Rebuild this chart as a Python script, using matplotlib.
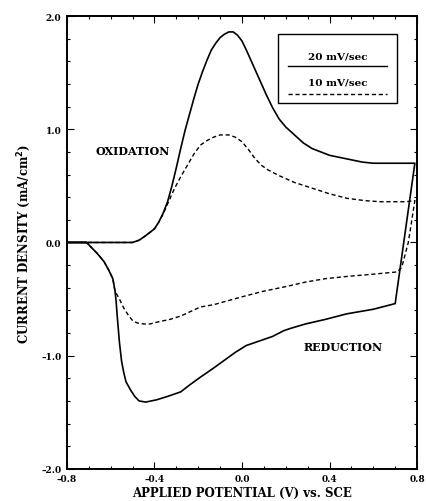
import numpy as np
import matplotlib
matplotlib.use('Agg')
import matplotlib.pyplot as plt
from matplotlib.ticker import MultipleLocator, FuncFormatter
from matplotlib.patches import Rectangle

# ── Data ───────────────────────────────────────────────────────────────────
# 20 mV/sec, anodic (forward) sweep
v20_fwd = [-0.80, -0.60, -0.50, -0.47, -0.44, -0.42, -0.40, -0.38, -0.36, -0.34,
           -0.32, -0.30, -0.28, -0.26, -0.24, -0.22, -0.20, -0.18, -0.16, -0.14,
           -0.12, -0.10, -0.08, -0.06, -0.04, -0.02, 0.00, 0.02, 0.05, 0.08,
           0.11, 0.14, 0.17, 0.20, 0.24, 0.28, 0.32, 0.36, 0.40, 0.45,
           0.50, 0.55, 0.60, 0.79]
i20_fwd = [0.0, 0.0, 0.0, 0.02, 0.06, 0.09, 0.12, 0.18, 0.26, 0.36,
           0.50, 0.66, 0.83, 0.99, 1.13, 1.27, 1.40, 1.51, 1.61, 1.70,
           1.76, 1.81, 1.84, 1.86, 1.86, 1.83, 1.78, 1.70, 1.57, 1.44,
           1.31, 1.19, 1.09, 1.02, 0.95, 0.88, 0.83, 0.80, 0.77, 0.75,
           0.73, 0.71, 0.70, 0.70]

# 20 mV/sec, cathodic (reverse) sweep
v20_rev = [0.79, 0.70, 0.60, 0.48, 0.38, 0.29, 0.22, 0.19, 0.14, 0.08,
           0.02, -0.03, -0.08, -0.13, -0.19, -0.24, -0.28, -0.34, -0.39, -0.44,
           -0.47, -0.49, -0.51, -0.53, -0.54, -0.55, -0.56, -0.57, -0.575, -0.58,
           -0.59, -0.61, -0.63, -0.66, -0.69, -0.71, -0.80]
i20_rev = [0.70, -0.54, -0.59, -0.63, -0.68, -0.72, -0.76, -0.78, -0.83, -0.87,
           -0.91, -0.97, -1.04, -1.11, -1.19, -1.26, -1.32, -1.36, -1.39, -1.41,
           -1.40, -1.36, -1.30, -1.23, -1.15, -1.05, -0.88, -0.65, -0.52, -0.43,
           -0.32, -0.24, -0.17, -0.10, -0.04, 0.0, 0.0]

# 10 mV/sec, anodic sweep
v10_fwd = [-0.80, -0.60, -0.50, -0.47, -0.44, -0.42, -0.40, -0.38, -0.36, -0.34,
           -0.31, -0.28, -0.25, -0.22, -0.19, -0.16, -0.13, -0.10, -0.06, -0.03,
           0.00, 0.03, 0.06, 0.09, 0.12, 0.17, 0.24, 0.32, 0.40, 0.48,
           0.56, 0.63, 0.70, 0.75, 0.79]
i10_fwd = [0.0, 0.0, 0.0, 0.02, 0.06, 0.09, 0.12, 0.18, 0.25, 0.34,
           0.47, 0.58, 0.68, 0.78, 0.86, 0.90, 0.93, 0.95, 0.95, 0.93,
           0.89, 0.82, 0.74, 0.68, 0.64, 0.59, 0.53, 0.48, 0.43, 0.39,
           0.37, 0.36, 0.36, 0.36, 0.37]

# 10 mV/sec, cathodic sweep
v10_rev = [0.79, 0.76, 0.73, 0.71, 0.60, 0.48, 0.38, 0.29, 0.20, 0.10,
           0.00, -0.13, -0.19, -0.28, -0.33, -0.38, -0.42, -0.45, -0.48, -0.50,
           -0.52, -0.54, -0.56, -0.58, -0.59, -0.61, -0.63, -0.66, -0.69, -0.71,
           -0.80]
i10_rev = [0.37, 0.0, -0.22, -0.26, -0.28, -0.30, -0.32, -0.35, -0.39, -0.43,
           -0.48, -0.55, -0.57, -0.65, -0.68, -0.70, -0.72, -0.72, -0.71, -0.69,
           -0.64, -0.58, -0.50, -0.43, -0.32, -0.24, -0.17, -0.10, -0.04, 0.0,
           0.0]

legend_labels = ['20 mV/sec', '10 mV/sec']

# ── Figure ─────────────────────────────────────────────────────────────────
plt.rcParams['font.family'] = ['DejaVu Serif']
plt.rcParams['font.weight'] = 'bold'

fig = plt.figure(figsize=(4.26, 5.02), dpi=100)
ax = fig.add_axes([0.157, 0.064, 0.822, 0.902])

ax.plot(v20_fwd + v20_rev, i20_fwd + i20_rev, color='black', linewidth=1.2)
ax.plot(v10_fwd + v10_rev, i10_fwd + i10_rev, color='black', linewidth=1.0,
        linestyle=(0, (3, 2)))

ax.set_xlim(-0.8, 0.8)
ax.set_ylim(-2.0, 2.0)

ax.xaxis.set_major_locator(MultipleLocator(0.4))
ax.xaxis.set_minor_locator(MultipleLocator(0.1))
ax.yaxis.set_major_locator(MultipleLocator(1.0))
ax.yaxis.set_minor_locator(MultipleLocator(0.2))
fmt = FuncFormatter(lambda v, p: f'{v:.1f}'.replace('-', '\u2013'))
ax.xaxis.set_major_formatter(fmt)
ax.yaxis.set_major_formatter(fmt)
ax.tick_params(which='both', direction='in', top=True, right=True, width=0.8)
ax.tick_params(which='major', length=5, labelsize=6.5, pad=4)
ax.tick_params(which='minor', length=2.5)
for s in ax.spines.values():
    s.set_linewidth(1.4)

ax.set_xlabel('APPLIED POTENTIAL (V) vs. SCE', fontsize=8.5, fontweight='bold', labelpad=2)
ax.set_ylabel('CURRENT DENSITY (mA/cm$^\\mathbf{2}$)', fontsize=8.5, fontweight='bold', labelpad=6)

ax.text(-0.50, 0.81, 'OXIDATION', ha='center', va='center', fontsize=8, fontweight='bold')
ax.text(0.46, -0.92, 'REDUCTION', ha='center', va='center', fontsize=8, fontweight='bold')

# legend box: label above its line sample
ax.add_patch(Rectangle((0.603, 0.808), 0.340, 0.152, transform=ax.transAxes,
                       fill=False, edgecolor='black', linewidth=1.0))
ax.text(0.773, 0.912, legend_labels[0], transform=ax.transAxes, ha='center', va='center',
        fontsize=7.5, fontweight='bold')
ax.plot([0.631, 0.914], [0.890, 0.890], transform=ax.transAxes, color='black', linewidth=1.0)
ax.text(0.773, 0.854, legend_labels[1], transform=ax.transAxes, ha='center', va='center',
        fontsize=7.5, fontweight='bold')
ax.plot([0.631, 0.914], [0.828, 0.828], transform=ax.transAxes, color='black', linewidth=1.0,
        linestyle=(0, (3, 2)))

fig.savefig('out.png', dpi=100)
